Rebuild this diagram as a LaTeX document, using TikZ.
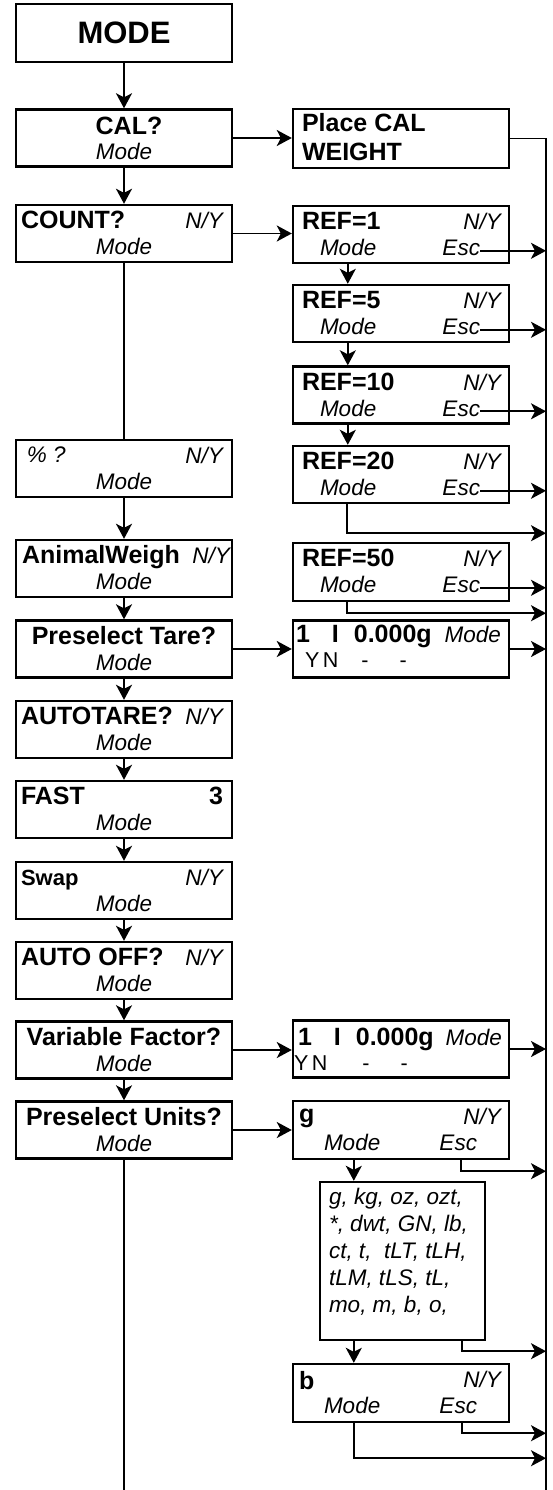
\documentclass[tikz,border=0pt]{standalone}
\usepackage{fontspec}
\setmainfont{Liberation Sans}
\usetikzlibrary{arrows.meta,calc}

\begin{document}
\begin{tikzpicture}[x=1pt, y=-1pt] % 1pt = 1 пиксель, ось y вниз
\tikzstyle{screen} = [draw, line width=2.4pt, minimum width=216pt, minimum height=57pt, inner sep=0pt] % окно дисплея
\tikzstyle{bigtext} = [font=\fontsize{25}{25}\selectfont\bfseries, inner sep=0pt] % жирная надпись
\tikzstyle{ittext} = [font=\fontsize{22.5}{27}\selectfont\itshape, inner sep=0pt] % курсив (Mode, N/Y, Esc)
\tikzstyle{rmtext} = [font=\fontsize{21.5}{22}\selectfont, inner sep=0pt] % прямой шрифт
\tikzstyle{wire} = [line width=1.8pt] % линия без стрелки
\tikzstyle{arr} = [line width=1.8pt, -{Stealth[length=15pt, width=16pt, inset=4pt]}] % линия со стрелкой

\useasboundingbox (0,0) rectangle (553,1490);

% левый столбец - пункты меню
\node[screen, minimum height=58pt, font=\fontsize{31}{31}\selectfont\bfseries] (mode) at (124,33) {MODE};
\node[screen] (cal) at (124,138) {};
\node[screen] (count) at (124,233.5) {};
\node[screen] (pct) at (124,468.5) {};
\node[screen] (animal) at (124,568.5) {};
\node[screen] (tare) at (124,649) {};
\node[screen] (autotare) at (124,729.5) {};
\node[screen] (fast) at (124,809.5) {};
\node[screen] (swap) at (124,890.5) {};
\node[screen] (autooff) at (124,970.5) {};
\node[screen] (varf) at (124,1050) {};
\node[screen] (units) at (124,1130) {};

% правый столбец - подменю
\node[screen, minimum height=59pt] (place) at (401,138.5) {};
\node[screen] (r1) at (401,234.5) {};
\node[screen] (r5) at (401,313.5) {};
\node[screen] (r10) at (401,395) {};
\node[screen] (r20) at (401,474.5) {};
\node[screen, minimum height=58pt] (r50) at (401,572) {};
\node[screen] (tres) at (401,649) {};
\node[screen] (vres) at (401,1049) {};
\node[screen, minimum height=58pt] (g) at (401,1130) {};
\node[draw, line width=2.4pt, minimum width=165pt, minimum height=158pt, inner sep=0pt] (list) at (402.5,1261) {};
\node[screen, minimum height=58pt] (b) at (401,1393) {};

\coordinate (bustop) at (546,138.5); % общая линия справа
\coordinate (busend) at (546,1490);
\coordinate (lend) at (124,1490);

% надписи левого столбца
\node[bigtext, anchor=base] (cal-h) at ([xshift=5pt,yshift=-26pt]cal.north) {CAL?};
\node[bigtext, anchor=base west] (count-h) at ([xshift=6pt,yshift=-25pt]count.north west) {COUNT?};
\node[ittext, anchor=base west] (pct-h) at ([xshift=12pt,yshift=-24pt]pct.north west) {\% ?};
\node[bigtext, anchor=base west] (animal-h) at ([xshift=7pt,yshift=-25pt]animal.north west) {AnimalWeigh};
\node[ittext, anchor=base east] (animal-ny) at ([xshift=-3pt,yshift=-25pt]animal.north east) {N/Y};
\node[bigtext, anchor=base] (tare-h) at ([yshift=-25pt]tare.north) {Preselect Tare?};
\node[bigtext, anchor=base west] (autotare-h) at ([xshift=6pt,yshift=-25pt]autotare.north west) {AUTOTARE?};
\node[bigtext, anchor=base west] (fast-h) at ([xshift=6pt,yshift=-25pt]fast.north west) {FAST};
\node[bigtext, anchor=base east] (fast-n) at ([xshift=-10pt,yshift=-25pt]fast.north east) {3};
\node[bigtext, font=\fontsize{22}{22}\selectfont\bfseries, anchor=base west] (swap-h) at ([xshift=6pt,yshift=-25pt]swap.north west) {Swap};
\node[bigtext, anchor=base west] (autooff-h) at ([xshift=6pt,yshift=-25pt]autooff.north west) {AUTO OFF?};
\node[bigtext, anchor=base] (varf-h) at ([yshift=-25pt]varf.north) {Variable Factor?};
\node[bigtext, anchor=base] (units-h) at ([yshift=-25pt]units.north) {Preselect Units?};
\foreach \nd in {cal,count,pct,animal,tare,autotare,fast,swap,autooff,varf,units}
  \node[ittext, anchor=base] (\nd-m) at ([yshift=-51pt]\nd.north) {Mode};
\foreach \nd in {count,pct,autotare,swap,autooff}
  \node[ittext, anchor=base east] (\nd-ny) at ([xshift=-10pt,yshift=-25pt]\nd.north east) {N/Y};

% надписи правого столбца
\node[bigtext, anchor=base west] (place-h) at ([xshift=10pt,yshift=-24pt]place.north west) {Place CAL};
\node[bigtext, anchor=base west] (place-w) at ([xshift=10pt,yshift=-53pt]place.north west) {WEIGHT};
\foreach \nd/\val in {r1/1, r5/5, r10/10, r20/20, r50/50}
  \node[bigtext, anchor=base west] (\nd-h) at ([xshift=10pt,yshift=-25pt]\nd.north west) {REF=\val};
\node[bigtext, anchor=base west] (g-h) at ([xshift=7pt,yshift=-23pt]g.north west) {g};
\node[bigtext, anchor=base west] (b-h) at ([xshift=7pt,yshift=-27pt]b.north west) {b};
\foreach \nd in {r1,r5,r10,r20,r50,g,b}
  \node[ittext, anchor=base east] (\nd-ny) at ([xshift=-9pt,yshift=-25pt]\nd.north east) {N/Y};
\foreach \nd/\dx in {r1/28, r5/28, r10/28, r20/28, r50/28, g/32, b/32}
  \node[ittext, anchor=base west] (\nd-m) at ([xshift=\dx pt,yshift=-51pt]\nd.north west) {Mode};
\foreach \nd in {r1,r5,r10,r20,r50}
  \node[ittext, anchor=east, text height=10pt, text depth=0pt] (\nd-esc) at ([xshift=-30pt,yshift=-46pt]\nd.north east) {Esc};
\foreach \nd in {g,b}
  \node[ittext, anchor=base east] (\nd-esc) at ([xshift=-33pt,yshift=-51pt]\nd.north east) {Esc};

\node[bigtext, anchor=base west] (tres-h) at ([xshift=4pt,yshift=-23pt]tres.north west) {1\hspace{22pt}I\hspace{15pt}0.000g};
\node[ittext, anchor=base east] (tres-m) at ([xshift=-9pt,yshift=-23pt]tres.north east) {Mode};
\node[rmtext, anchor=base west] (tres-yn) at ([xshift=13pt,yshift=-48pt]tres.north west) {Y\,N\hspace{23pt}-\hspace{31pt}-};
\node[bigtext, anchor=base west] (vres-h) at ([xshift=6pt,yshift=-26pt]vres.north west) {1\hspace{22pt}I\hspace{15pt}0.000g};
\node[ittext, anchor=base east] (vres-m) at ([xshift=-8pt,yshift=-26pt]vres.north east) {Mode};
\node[rmtext, anchor=base west] (vres-yn) at ([xshift=2pt,yshift=-51pt]vres.north west) {Y\,N\hspace{35pt}-\hspace{31pt}-};

\node[ittext, anchor=north west, align=left] (list-t) at ([xshift=10pt,yshift=-7pt]list.north west)
  {g, kg, oz, ozt,\\*, dwt, GN, lb,\\ct, t,\ \ tLT, tLH,\\tLM, tLS, tL,\\mo, m, b, o,};

% стрелки левого столбца
\foreach \src/\dst in {mode/cal, cal/count, pct/animal, animal/tare, tare/autotare, autotare/fast, fast/swap, swap/autooff, autooff/varf, varf/units}
  \draw[arr] (\src) -- (\dst);
\draw[wire] (count) -- (pct);
\draw[wire] (units) -- (lend);

% переходы вправо
\foreach \src/\dst in {cal/place, count/r1, tare/tres, varf/vres, units/g}
  \draw[arr] (\src.east) -- (\src.east -| \dst.west);
\draw[wire] (place) -- (bustop) -- (busend);

% подменю COUNT
\foreach \src/\dst in {r1/r5, r5/r10, r10/r20}
  \draw[arr] ([xshift=56pt]\src.south west) -- ([xshift=56pt]\dst.north west);
\foreach \nd in {r1,r5,r10,r20,r50}
  \draw[arr] (\nd-esc) -- (\nd-esc -| bustop);
\foreach \nd/\dy in {r20/29, r50/11}
  \draw[arr] ([xshift=55pt]\nd.south west) |- ($(\nd.south west -| bustop)+(0,\dy)$);
\foreach \nd in {tres,vres}
  \draw[arr] (\nd) -- (\nd -| bustop);

% подменю единиц
\draw[arr] ([xshift=62pt]g.south west) -- ([xshift=35pt]list.north west);
\draw[arr] ([xshift=35pt]list.south west) -- ([xshift=62pt]b.north west);
\foreach \nd/\dx/\dy in {g/-49/11, list/-24/10, b/-48/10}
  \draw[arr] ([xshift=\dx pt]\nd.south east) |- ($(\nd.south east -| bustop)+(0,\dy)$);
\draw[arr] ([xshift=62pt]b.south west) |- ($(b.south west -| bustop)+(0,35)$);
\end{tikzpicture}
\end{document}
